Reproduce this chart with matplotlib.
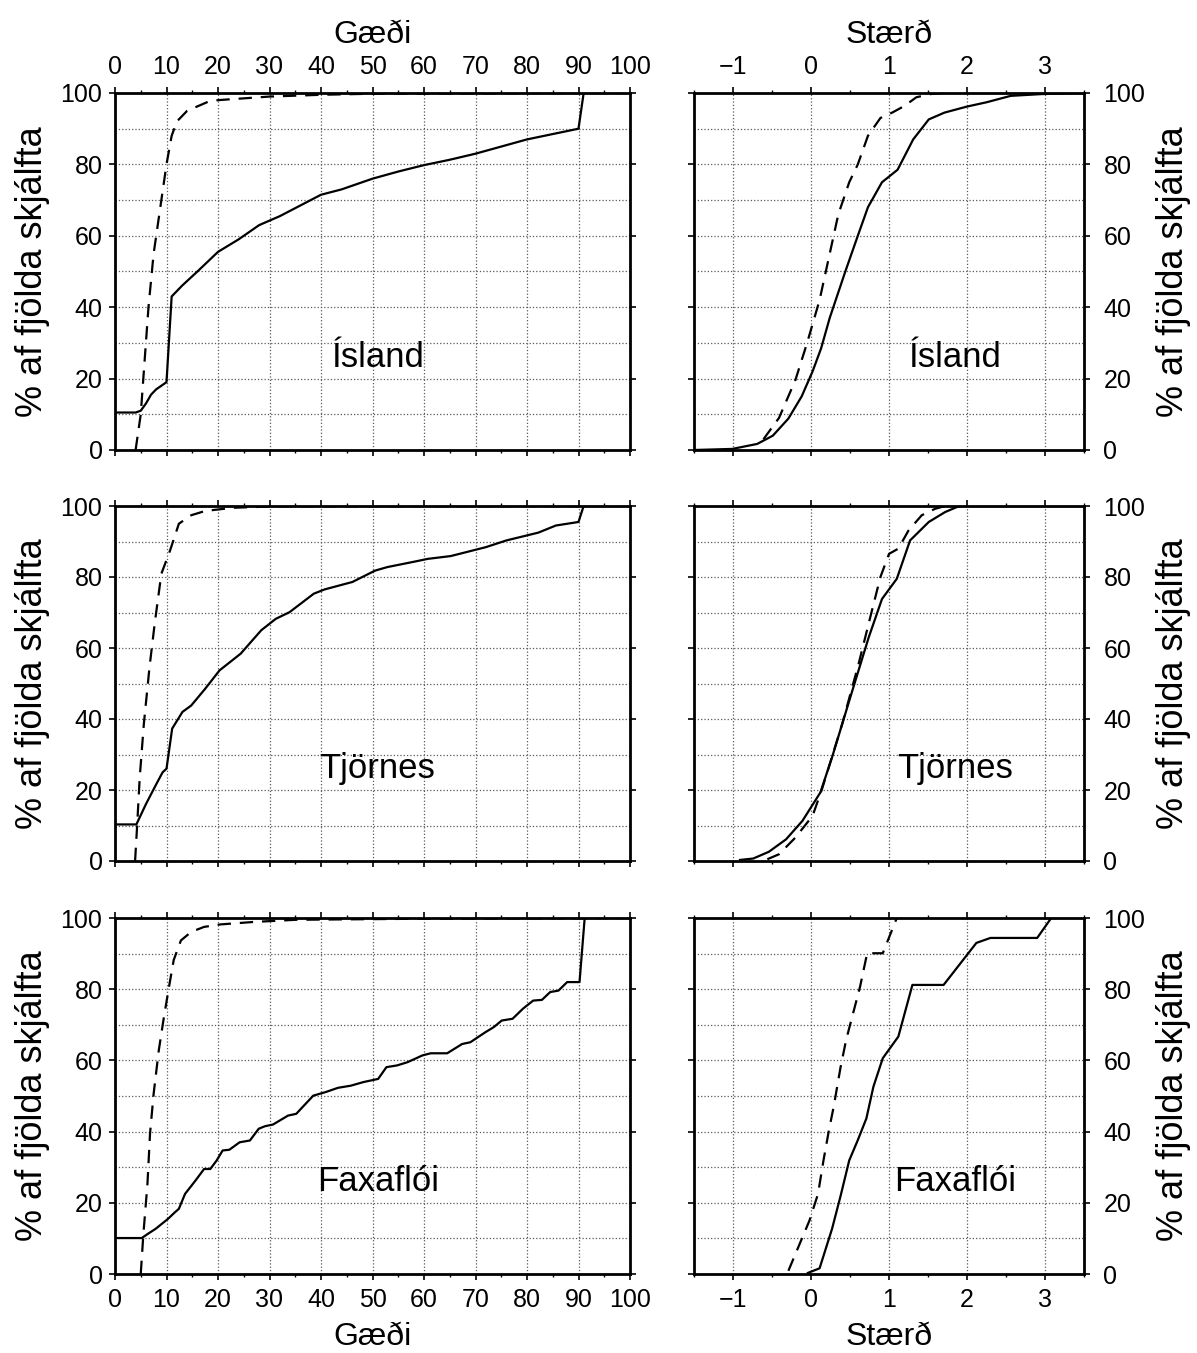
import numpy as np
import matplotlib.pyplot as plt
from matplotlib.ticker import MultipleLocator

plt.rcParams['font.family'] = ['Liberation Sans', 'DejaVu Sans']

# Gæði (vinstri dálkur): heil lína og brotin lína fyrir hvert svæði
isl_q_x = [0, 4, 5, 6, 7, 8, 9.5, 10, 11, 13, 16, 20, 24, 28, 32, 36, 40, 44, 47, 50, 55, 60, 65, 70, 75, 80, 85, 90, 91]
isl_q_y = [10.5, 10.5, 11, 13, 15.5, 17, 18.5, 19, 43, 46, 50, 55.5, 59, 63, 65.5, 68.5, 71.5, 73, 74.5, 76, 78, 79.8, 81.3, 83, 85, 87, 88.5, 90, 100]
isl_qd_x = [4, 5, 5.5, 6.5, 7.5, 8.5, 9, 10, 11, 12, 14, 18, 20, 30, 40, 50, 100]
isl_qd_y = [0, 10, 20, 40, 55, 65, 70, 80, 88, 92, 95, 97.5, 98, 99, 99.5, 99.8, 100]

tjo_q_x = [0, 4.15, 6, 8, 9.25, 10, 11.1, 13.1, 14.8, 17.5, 20.3, 24.4, 28.4, 31.2, 33.9, 38.6, 40.7, 46.1, 50.5, 52.9,
           58.4, 60.7, 65.2, 72, 76, 82.2, 85.6, 90, 91]
tjo_q_y = [10.3, 10.3, 16, 21.6, 25, 26, 37.3, 42, 43.8, 48.5, 53.7, 58.4, 65, 68.2, 70.1, 75.3, 76.5, 78.6, 81.8, 82.8,
           84.4, 85.1, 85.9, 88.4, 90.3, 92.5, 94.5, 95.5, 100]
tjo_qd_x = [3.9, 4.3, 4.8, 5.6, 6.7, 7.7, 9, 10.7, 12.4, 14.8, 17.5, 22.9, 31, 100]
tjo_qd_y = [0, 10, 23.5, 38.6, 54.6, 66.8, 80.9, 87.5, 95, 97.4, 98.6, 99.5, 99.9, 100]

fax_q_x = [0, 5.2, 6.3, 7.9, 9.1, 10.3, 11.6, 12.4, 13.6, 15.6, 17.3, 18.5, 19.7, 20.9, 22.2, 24.2, 26.2, 27.9, 29.1,
           30.7, 33.6, 35.2, 38.5, 40.9, 43.3, 45.8, 48.2, 51.1, 52.7, 54.8, 56.8, 59.7, 61.3, 64.5, 67.4, 69, 71.9,
           73.5, 75.1, 77.2, 79.2, 81.2, 82.9, 84.5, 86.1, 87.8, 90.2, 91.2]
fax_q_y = [10.1, 10.1, 11.2, 12.7, 14.1, 15.5, 17.3, 18.3, 22.5, 26.2, 29.5, 29.5, 31.8, 34.7, 34.9, 37, 37.5, 40.8,
           41.5, 42, 44.5, 45, 50.1, 51.1, 52.3, 52.9, 53.9, 54.8, 58.1, 58.6, 59.5, 61.4, 62, 62, 64.6, 65.1, 67.9,
           69.3, 71.2, 71.7, 74.5, 76.8, 77, 79.2, 79.6, 82, 82, 100]
fax_qd_x = [5, 5.5, 6.3, 6.8, 7.5, 8.5, 9.5, 10.6, 11.4, 12.8, 14.8, 17.3, 20.5, 27, 35.2, 60, 100]
fax_qd_y = [0, 11, 25.3, 39.4, 50.6, 62.8, 72.2, 81.6, 88.2, 93.7, 96.1, 97.5, 98.2, 98.9, 99.5, 99.8, 100]

# Stærð (hægri dálkur)
isl_m_x = [-1.5, -1.01, -0.69, -0.49, -0.29, -0.12, 0.02, 0.13, 0.24, 0.44, 0.6, 0.73, 0.91, 1.11, 1.31, 1.51, 1.71,
           2.0, 2.25, 2.56, 2.96, 3.5]
isl_m_y = [0, 0.3, 1.7, 4, 8.8, 15, 22, 28.5, 37, 50, 60, 68, 75, 78.5, 87, 92.6, 94.5, 96.2, 97.4, 99.2, 99.7, 100]
isl_md_x = [-0.61, -0.41, -0.2, -0.05, 0.11, 0.24, 0.35, 0.49, 0.6, 0.73, 0.89, 1.04, 1.2, 1.35, 1.53, 1.7]
isl_md_y = [3, 9, 19.6, 30, 42, 55, 66, 75, 80, 88, 93, 94.5, 96.4, 98.8, 99.7, 100]

tjo_m_x = [-0.91, -0.74, -0.54, -0.32, -0.11, 0.12, 0.27, 0.53, 0.74, 0.91, 1.1, 1.27, 1.51, 1.72, 1.87, 1.93, 3.5]
tjo_m_y = [0.3, 0.7, 2.6, 6.1, 11.3, 19.3, 29.2, 48, 63, 73.8, 79.5, 90.3, 95.5, 98.3, 99.7, 100, 100]
tjo_md_x = [-0.56, -0.41, -0.2, 0.02, 0.14, 0.4, 0.61, 0.76, 0.89, 1.0, 1.12, 1.25, 1.42, 1.59, 1.72]
tjo_md_y = [0.5, 1.9, 6.6, 12.7, 20.2, 38.6, 55.5, 68.7, 80, 86.5, 88, 93.1, 97.4, 99.2, 100]

fax_m_x = [-0.04, 0.11, 0.27, 0.38, 0.49, 0.6, 0.71, 0.8, 0.92, 1.12, 1.3, 1.7, 2.12, 2.3, 2.9, 3.08]
fax_m_y = [0.3, 1.6, 12.7, 22, 31.9, 37.6, 43.7, 52.6, 60.6, 66.7, 81.2, 81.2, 93, 94.4, 94.4, 100]
fax_md_x = [-0.29, -0.02, 0.09, 0.16, 0.23, 0.29, 0.38, 0.45, 0.63, 0.72, 0.8, 0.92, 1.1]
fax_md_y = [0.9, 15, 22.5, 31.9, 40.4, 46.9, 58.2, 65.7, 80.8, 90.1, 90.1, 90.1, 100]

names = ['Ísland', 'Tjörnes', 'Faxaflói']
quality = [(isl_q_x, isl_q_y, isl_qd_x, isl_qd_y),
           (tjo_q_x, tjo_q_y, tjo_qd_x, tjo_qd_y),
           (fax_q_x, fax_q_y, fax_qd_x, fax_qd_y)]
magnitude = [(isl_m_x, isl_m_y, isl_md_x, isl_md_y),
             (tjo_m_x, tjo_m_y, tjo_md_x, tjo_md_y),
             (fax_m_x, fax_m_y, fax_md_x, fax_md_y)]

ylab = '% af fjölda skjálfta'
W, H = 1197, 1353
fig = plt.figure(figsize=(W / 100, H / 100), dpi=100)

rows = [(93, 450), (506, 861), (918, 1274)]
left_x = (115, 630)
right_x = (694, 1084)


def make_ax(xpix, ypix):
    return fig.add_axes([xpix[0] / W, 1 - ypix[1] / H, (xpix[1] - xpix[0]) / W, (ypix[1] - ypix[0]) / H])


def style(ax):
    for s in ax.spines.values():
        s.set_linewidth(2)
    ax.set_ylim(0, 100)
    ax.yaxis.set_major_locator(MultipleLocator(20))
    ax.yaxis.set_minor_locator(MultipleLocator(10))
    ax.grid(True, which='both', axis='y', ls=':', lw=0.9, color='0.35')
    ax.tick_params(which='major', direction='out', length=4, width=1.2, labelsize=18, pad=5,
                   top=True, bottom=True, left=True, right=True)
    ax.tick_params(which='minor', direction='out', length=2.5, width=1, top=True, bottom=True)
    ax.tick_params(axis='y', which='minor', length=0)
    ax.tick_params(axis='x', pad=6)


for i, (ypix, name) in enumerate(zip(rows, names)):
    # gæði
    ax = make_ax(left_x, ypix)
    style(ax)
    qx, qy, qdx, qdy = quality[i]
    ax.plot(qx, qy, color='k', lw=1.6)
    ax.plot(qdx, qdy, color='k', lw=1.6, ls=(0, (6, 4)))
    ax.set_xlim(0, 100)
    ax.xaxis.set_major_locator(MultipleLocator(10))
    ax.xaxis.set_minor_locator(MultipleLocator(5))
    ax.grid(True, which='major', axis='x', ls=':', lw=0.9, color='0.35')
    ax.tick_params(axis='y', labelleft=True, labelright=False)
    ax.set_ylabel(ylab, fontsize=26, labelpad=8)
    ax.text(51, 26, name, fontsize=25, ha='center', va='center')
    if i == 0:
        ax.tick_params(axis='x', labeltop=True, labelbottom=False)
        ax.xaxis.set_label_position('top')
        ax.set_xlabel('Gæði', fontsize=23, labelpad=9)
    elif i == 2:
        ax.set_xlabel('Gæði', fontsize=23, labelpad=7)
    else:
        ax.tick_params(axis='x', labelbottom=False)

    # stærð
    ax = make_ax(right_x, ypix)
    style(ax)
    mx, my, mdx, mdy = magnitude[i]
    ax.plot(mx, my, color='k', lw=1.6)
    ax.plot(mdx, mdy, color='k', lw=1.6, ls=(0, (6, 4)))
    ax.set_xlim(-1.5, 3.5)
    ax.xaxis.set_major_locator(MultipleLocator(1))
    ax.xaxis.set_minor_locator(MultipleLocator(0.5))
    ax.xaxis.set_major_formatter(plt.FuncFormatter(lambda v, p: ('\u2212%d' % -v) if v < 0 else '%d' % v))
    ax.grid(True, which='major', axis='x', ls=':', lw=0.9, color='0.35')
    ax.tick_params(axis='y', labelleft=False, labelright=True, pad=10)
    ax.yaxis.set_label_position('right')
    ax.set_ylabel(ylab, fontsize=26, labelpad=8)
    ax.text(1.85, 26, name, fontsize=25, ha='center', va='center')
    if i == 0:
        ax.tick_params(axis='x', labeltop=True, labelbottom=False)
        ax.xaxis.set_label_position('top')
        ax.set_xlabel('Stærð', fontsize=23, labelpad=9)
    elif i == 2:
        ax.set_xlabel('Stærð', fontsize=23, labelpad=7)
    else:
        ax.tick_params(axis='x', labelbottom=False)

fig.savefig('out.png', dpi=100)
